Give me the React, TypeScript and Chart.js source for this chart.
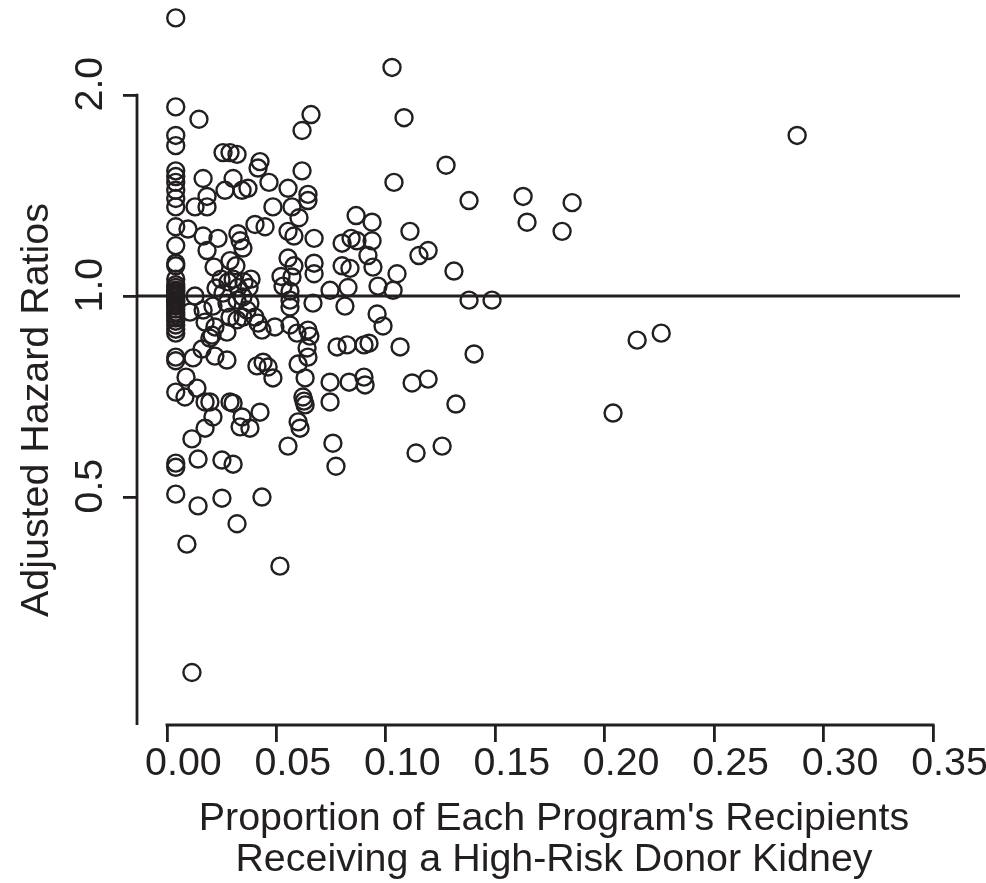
import { useEffect, useRef } from 'react';
import { Chart, registerables } from 'chart.js';

Chart.register(...registerables);

// ---- data ----
const proportion = [
  // programs with (almost) no high-risk donor kidneys
  0.004, 0.004, 0.004, 0.004, 0.004, 0.004, 0.004, 0.004, 0.004, 0.004,
  0.004, 0.004, 0.004, 0.004, 0.004, 0.004, 0.004, 0.004, 0.004, 0.004,
  0.004, 0.004, 0.004, 0.004, 0.004, 0.004, 0.004, 0.004, 0.004, 0.004,
  0.004, 0.004, 0.004, 0.004, 0.004, 0.004, 0.004, 0.004, 0.004, 0.004,
  // remaining programs
  0.0146, 0.0658, 0.0617, 0.1028, 0.1083, 0.2879, 0.0256, 0.0288, 0.0320, 0.0425,
  0.0416, 0.0617, 0.1275, 0.0165, 0.0302, 0.0466, 0.1037, 0.0265, 0.0343, 0.0370,
  0.0553, 0.0644, 0.0644, 0.1380, 0.1627, 0.1851, 0.0128, 0.0183, 0.0183, 0.0484,
  0.0571, 0.0603, 0.0864, 0.0937, 0.1645, 0.1805, 0.1110, 0.0096, 0.0402, 0.0448,
  0.0553, 0.0580, 0.0672, 0.0165, 0.0233, 0.0324, 0.0334, 0.0347, 0.0800, 0.0841,
  0.0868, 0.0937, 0.0183, 0.0918, 0.1151, 0.1193, 0.0215, 0.0288, 0.0315, 0.0553,
  0.0580, 0.0672, 0.0672, 0.0800, 0.0836, 0.0941, 0.1051, 0.1311, 0.0521, 0.0530,
  0.0247, 0.0279, 0.0302, 0.0324, 0.0352, 0.0375, 0.0384, 0.0745, 0.0827, 0.0964,
  0.1033, 0.1380, 0.1485, 0.0128, 0.0105, 0.0165, 0.0210, 0.0256, 0.0274, 0.0320,
  0.0347, 0.0379, 0.0366, 0.0288, 0.0320, 0.0347, 0.0219, 0.0274, 0.0402, 0.0416,
  0.0434, 0.0196, 0.0562, 0.0562, 0.0667, 0.0813, 0.0960, 0.0987, 0.0493, 0.0562,
  0.0594, 0.0644, 0.0653, 0.0640, 0.0644, 0.0777, 0.0823, 0.0900, 0.0923, 0.1065,
  0.1403, 0.2148, 0.2258, 0.0119, 0.0160, 0.0219, 0.0274, 0.0411, 0.0439, 0.0462,
  0.0599, 0.0087, 0.0484, 0.0631, 0.0745, 0.0832, 0.0900, 0.0905, 0.1120, 0.1193,
  0.0082, 0.0137, 0.0174, 0.0196, 0.0288, 0.0302, 0.0621, 0.0626, 0.0631, 0.0745,
  0.1320, 0.2038, 0.0210, 0.0343, 0.0425, 0.0174, 0.0334, 0.0379, 0.0599, 0.0608,
  0.0114, 0.0553, 0.0758, 0.1138, 0.1257, 0.0772, 0.0142, 0.0251, 0.0302, 0.0142,
  0.0251, 0.0434, 0.0320, 0.0091, 0.0516, 0.0114, 0.0571, 0.0562, 0.0174, 0.0206,
  0.0224,
];

const hazardRatio = [
  2.61, 1.92, 1.74, 1.68, 1.54, 1.51, 1.48, 1.44, 1.40, 1.36,
  1.27, 1.19, 1.12, 1.11, 1.06, 1.04, 1.03, 1.02, 1.014, 1.007,
  1.00, 0.993, 0.986, 0.98, 0.973, 0.966, 0.956, 0.946, 0.937, 0.927,
  0.917, 0.905, 0.892, 0.88, 0.81, 0.80, 0.718, 0.562, 0.554, 0.505,
  1.84, 1.87, 1.77, 2.20, 1.85, 1.74, 1.64, 1.64, 1.63, 1.59,
  1.555, 1.54, 1.57, 1.50, 1.50, 1.48, 1.48, 1.44, 1.44, 1.45,
  1.45, 1.42, 1.39, 1.39, 1.41, 1.38, 1.36, 1.41, 1.36, 1.36,
  1.36, 1.31, 1.32, 1.29, 1.29, 1.25, 1.25, 1.26, 1.28, 1.27,
  1.25, 1.23, 1.22, 1.23, 1.22, 1.24, 1.21, 1.18, 1.20, 1.22,
  1.21, 1.21, 1.17, 1.15, 1.15, 1.17, 1.105, 1.13, 1.11, 1.14,
  1.11, 1.12, 1.08, 1.11, 1.10, 1.105, 1.08, 1.09, 1.07, 1.035,
  1.06, 1.05, 1.06, 1.03, 1.05, 1.03, 1.06, 1.02, 1.03, 1.035,
  1.02, 0.986, 0.986, 1.00, 0.946, 0.953, 0.966, 1.01, 0.976, 0.986,
  0.997, 0.976, 0.953, 0.93, 0.921, 0.93, 0.899, 0.883, 0.93, 0.911,
  0.889, 0.865, 0.986, 0.963, 0.976, 0.966, 0.94, 0.902, 0.899, 0.905,
  0.88, 0.889, 0.871, 0.836, 0.81, 0.839, 0.845, 0.845, 0.85, 0.839,
  0.819, 0.859, 0.88, 0.808, 0.833, 0.813, 0.802, 0.786, 0.796, 0.783,
  0.791, 0.756, 0.754, 0.754, 0.743, 0.743, 0.756, 0.736, 0.741, 0.751,
  0.706, 0.728, 0.694, 0.694, 0.694, 0.691, 0.706, 0.696, 0.687, 0.694,
  0.689, 0.668, 0.659, 0.659, 0.67, 0.634, 0.637, 0.634, 0.648, 0.634,
  0.611, 0.596, 0.602, 0.582, 0.596, 0.556, 0.57, 0.568, 0.56, 0.485,
  0.498, 0.50, 0.456, 0.425, 0.394, 0.273, 1.068, 1.017, 0.914, 0.874,
  1.028,
];

const referenceHazard = 1;

const xTicks = [0, 0.05, 0.1, 0.15, 0.2, 0.25, 0.3, 0.35];
const xTickLabels = ['0.00', '0.05', '0.10', '0.15', '0.20', '0.25', '0.30', '0.35'];
const yTicks = [0.5, 1, 2];
const yTickLabels = ['0.5', '1.0', '2.0'];

const xRange = [-0.0137, 0.3623];
const yRange = [0.2278, 2.776];

const xTitle = ["Proportion of Each Program's Recipients", 'Receiving a High-Risk Donor Kidney'];
const yTitle = 'Adjusted Hazard Ratios';

// ---- styles ----
const INK = '#231f20';
const FAMILY = '"Liberation Sans", Arial, Helvetica, sans-serif';
const FONT_SIZE = 39.4;

const rAxesPlugin = {
  id: 'rAxes',
  afterDraw(chart: any) {
    const { ctx, chartArea, scales } = chart;
    const xs = scales.x;
    const ys = scales.y;
    const yTop = ys.getPixelForValue(yTicks[yTicks.length - 1]);
    const x0 = xs.getPixelForValue(xTicks[0]);
    const x1 = xs.getPixelForValue(xTicks[xTicks.length - 1]);
    ctx.save();
    ctx.strokeStyle = INK;
    ctx.lineWidth = 2.8;
    ctx.lineCap = 'butt';
    ctx.beginPath();
    ctx.moveTo(chartArea.left, yTop - 1.4);
    ctx.lineTo(chartArea.left, chartArea.bottom);
    ctx.moveTo(x0 - 1.4, chartArea.bottom);
    ctx.lineTo(x1 + 1.4, chartArea.bottom);
    ctx.stroke();

    ctx.translate(48, (yTop + chartArea.bottom) / 2);
    ctx.rotate(-Math.PI / 2);
    ctx.font = `${FONT_SIZE}px ${FAMILY}`;
    ctx.fillStyle = INK;
    ctx.textAlign = 'center';
    ctx.textBaseline = 'alphabetic';
    ctx.fillText(yTitle, 0, 0);
    ctx.restore();
  },
};

export default function App() {
  const canvasRef = useRef<HTMLCanvasElement | null>(null);

  useEffect(() => {
    const canvas = canvasRef.current;
    if (!canvas) return;
    const points = proportion.map((p, i) => ({ x: p, y: hazardRatio[i] }));
    const chart = new Chart(canvas, {
      type: 'scatter',
      data: {
        datasets: [
          {
            type: 'line',
            data: [
              { x: xRange[0], y: referenceHazard },
              { x: xRange[1], y: referenceHazard },
            ],
            borderColor: INK,
            borderWidth: 3,
            pointRadius: 0,
            fill: false,
            clip: false,
          } as any,
          {
            type: 'scatter',
            data: points,
            pointRadius: 8.5,
            pointBorderWidth: 2.4,
            borderColor: INK,
            pointBorderColor: INK,
            backgroundColor: 'rgba(0,0,0,0)',
            pointBackgroundColor: 'rgba(0,0,0,0)',
            clip: false,
          } as any,
        ],
      },
      plugins: [rAxesPlugin],
      options: {
        animation: false,
        responsive: false,
        events: [],
        layout: { autoPadding: false, padding: { left: 0, right: 26, top: 0, bottom: 0 } },
        plugins: {
          legend: { display: false },
          tooltip: { enabled: false },
        },
        scales: {
          x: {
            type: 'linear',
            position: 'bottom',
            min: xRange[0],
            max: xRange[1],
            afterBuildTicks: (s: any) => {
              s.ticks = xTicks.map((v) => ({ value: v }));
            },
            afterFit: (s: any) => {
              s.height = 158;
              s.paddingLeft = 0;
              s.paddingRight = 0;
            },
            grid: {
              display: true,
              drawOnChartArea: false,
              drawTicks: true,
              tickLength: 17,
              color: INK,
              lineWidth: 2.8,
            },
            border: { display: false },
            ticks: {
              autoSkip: false,
              maxRotation: 0,
              minRotation: 0,
              padding: 2,
              color: INK,
              font: { family: FAMILY, size: FONT_SIZE, lineHeight: 1 },
              callback: (_v: any, i: number) => '   ' + xTickLabels[i],
            },
            title: {
              display: true,
              text: xTitle.map((t) => ' ' + t),
              color: INK,
              font: { family: FAMILY, size: FONT_SIZE, lineHeight: 41 / FONT_SIZE },
              padding: { top: 0, bottom: 2 },
            },
          },
          y: {
            type: 'logarithmic',
            position: 'left',
            min: yRange[0],
            max: yRange[1],
            afterBuildTicks: (s: any) => {
              s.ticks = yTicks.map((v) => ({ value: v }));
            },
            afterFit: (s: any) => {
              s.width = 137;
              s.paddingTop = 0;
              s.paddingBottom = 0;
            },
            grid: {
              display: true,
              drawOnChartArea: false,
              drawTicks: true,
              tickLength: 14,
              color: INK,
              lineWidth: 2.8,
            },
            border: { display: false },
            ticks: {
              autoSkip: false,
              minRotation: 90,
              maxRotation: 90,
              crossAlign: 'center',
              padding: -6,
              color: INK,
              font: { family: FAMILY, size: FONT_SIZE, lineHeight: 1 },
              callback: (_v: any, i: number) => '  ' + yTickLabels[i],
            },
          },
        },
      } as any,
    });
    return () => chart.destroy();
  }, []);

  return (
    <div style={{ position: 'absolute', left: 0, top: 0, width: 986, height: 883, background: '#fff' }}>
      <canvas ref={canvasRef} width={986} height={883} style={{ display: 'block' }} />
    </div>
  );
}
